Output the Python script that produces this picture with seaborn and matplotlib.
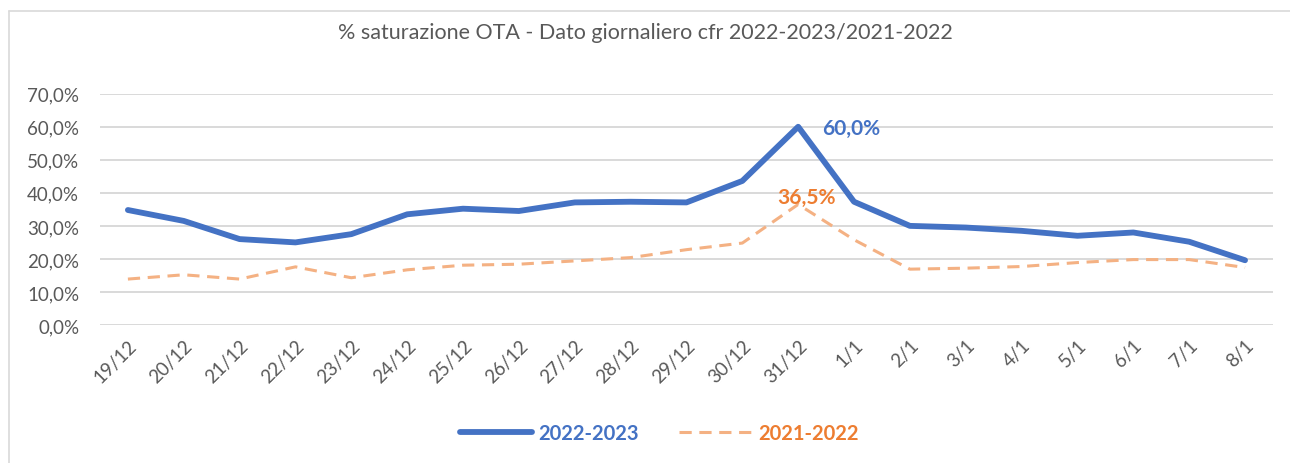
import matplotlib
matplotlib.use("Agg")
import matplotlib.pyplot as plt
import seaborn as sns
import pandas as pd
from matplotlib.lines import Line2D
from matplotlib.ticker import FuncFormatter

# Daily values (%)
giorni = ['19/12', '20/12', '21/12', '22/12', '23/12', '24/12', '25/12', '26/12',
          '27/12', '28/12', '29/12', '30/12', '31/12', '1/1', '2/1', '3/1', '4/1',
          '5/1', '6/1', '7/1', '8/1']
sat_2022_2023 = [34.8, 31.5, 26.0, 25.0, 27.5, 33.5, 35.2, 34.5, 37.1, 37.3, 37.1,
                 43.6, 60.0, 37.3, 30.0, 29.5, 28.5, 27.0, 28.0, 25.2, 19.6]
sat_2021_2022 = [13.9, 15.2, 13.9, 17.6, 14.3, 16.7, 18.1, 18.4, 19.4, 20.4, 22.8,
                 24.8, 36.5, 25.8, 16.9, 17.2, 17.7, 18.9, 19.8, 19.8, 17.4]

BLUE = '#4472C4'
ORANGE_LINE = '#F4B183'
ORANGE_TXT = '#ED7D31'
GREY_TXT = '#595959'

sns.set_theme(style='white')
plt.rcParams['font.family'] = ['Lato', 'DejaVu Sans']

df = pd.DataFrame({'pos': range(len(giorni)), 'giorno': giorni,
                   '2022-2023': sat_2022_2023, '2021-2022': sat_2021_2022})

fig = plt.figure(figsize=(12.9, 4.64), dpi=100)
ax = fig.add_axes([0.0775, 0.2974, 0.9093, 0.4985])

sns.lineplot(data=df, x='pos', y='2022-2023', ax=ax, color=BLUE, linewidth=4.2,
             solid_capstyle='round', zorder=3)
sns.lineplot(data=df, x='pos', y='2021-2022', ax=ax, color=ORANGE_LINE, linewidth=2.2,
             linestyle=(0, (4, 2.5)), zorder=2)

ax.set_xlim(-0.5, len(giorni) - 0.5)
ax.set_ylim(0, 70)
ax.set_yticks(range(0, 71, 10))
ax.yaxis.set_major_formatter(FuncFormatter(lambda v, p: f'{v:.1f}%'.replace('.', ',')))
ax.set_xticks(df['pos'])
ax.set_xticklabels(giorni, rotation=45, ha='right', rotation_mode='anchor')
ax.tick_params(axis='both', labelsize=13.5, colors=GREY_TXT, length=0)
ax.tick_params(axis='x', pad=8)
ax.tick_params(axis='y', pad=15)
ax.grid(axis='y', color='#D9D9D9', linewidth=1.4)
ax.set_axisbelow(True)
for s in ax.spines.values():
    s.set_visible(False)
ax.set_xlabel('')
ax.set_ylabel('')

# Peak labels
i_peak = sat_2022_2023.index(max(sat_2022_2023))
ax.annotate(f'{sat_2022_2023[i_peak]:.1f}%'.replace('.', ','),
            (i_peak, sat_2022_2023[i_peak]), xytext=(17, -1), textcoords='offset points',
            ha='left', va='center', color=BLUE, fontsize=15, fontweight='bold')
i_peak2 = sat_2021_2022.index(max(sat_2021_2022))
ax.annotate(f'{sat_2021_2022[i_peak2]:.1f}%'.replace('.', ','),
            (i_peak2, sat_2021_2022[i_peak2]), xytext=(6, 5), textcoords='offset points',
            ha='center', va='center', color=ORANGE_TXT, fontsize=15, fontweight='bold')

fig.text(0.5, 0.929, '% saturazione OTA - Dato giornaliero cfr 2022-2023/2021-2022',
         ha='center', va='center', fontsize=15.5, color=GREY_TXT)

handles = [Line2D([], [], color=BLUE, linewidth=4.2, solid_capstyle='round'),
           Line2D([], [], color=ORANGE_LINE, linewidth=2.2, linestyle=(0, (4, 2.5)))]
leg = fig.legend(handles, ['2022-2023', '2021-2022'], loc='center',
                 bbox_to_anchor=(0.511, 0.065), ncol=2, frameon=False,
                 handlelength=3.6, handletextpad=0.3, columnspacing=2.0,
                 prop={'size': 14.5, 'weight': 'bold'})
for t, c in zip(leg.get_texts(), [BLUE, ORANGE_TXT]):
    t.set_color(c)

# chart frame (left and top edges visible, as in the cropped original)
fig.add_artist(Line2D([9 / 1290, 9 / 1290], [0, 1 - 12 / 464], transform=fig.transFigure,
                      color='#D9D9D9', linewidth=1.2))
fig.add_artist(Line2D([9 / 1290, 1], [1 - 12 / 464, 1 - 12 / 464], transform=fig.transFigure,
                      color='#D9D9D9', linewidth=1.2))

fig.savefig('out.png', dpi=100)
